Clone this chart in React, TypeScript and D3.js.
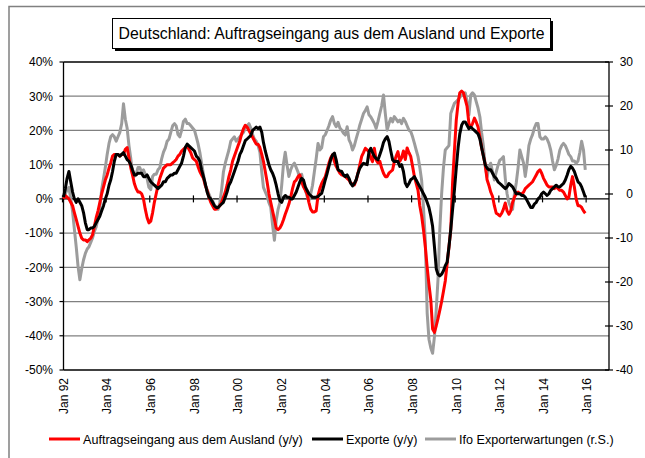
import React, { useEffect, useRef } from 'react';
import * as d3 from 'd3';

// monthly values, Jan 1992 - Dec 2015
const startMonth = new Date(1992, 0, 1);

// Auftragseingang aus dem Ausland (y/y, %)
const auftrag: number[] = [
  0, 1, 0.5, 0, -1, -2, -4, -6, -8, -10, -11.5, -12, // 1992
  -12, -12.5, -12, -11.5, -10.5, -8, -5.5, -3.5, -1, 1.5, 3.5, 5.5, // 1993
  7, 9, 10.5, 12.5, 13, 13, 13, 12.5, 13, 13, 14.5, 15, // 1994
  12, 9, 7, 4.5, 3, 2, 2, 1.5, 0, -3, -5.5, -7, // 1995
  -6.5, -4, -1, 1.5, 4, 6, 7.5, 9, 9.5, 10, 10, 10, // 1996
  10.5, 11, 11.5, 12.5, 13, 14, 14.5, 15, 15.5, 14.5, 13.5, 12, // 1997
  11.5, 11, 9.5, 8, 7, 6, 4, 2.5, 0.5, -1, -2, -3, // 1998
  -3, -2.5, -2, -1, 0.5, 2, 4, 6.5, 8.5, 11, 12.5, 14, // 1999
  15.5, 17, 19, 20.5, 21.5, 21, 20, 19, 18, 17, 16, 16, // 2000
  15, 13, 11, 8, 5, 1.5, -1, -3.5, -6, -8.5, -9, -8.5, // 2001
  -7.5, -6, -4.5, -3, -1.5, 0.5, 3, 5, 5.5, 6.5, 7, 5, // 2002
  3.5, 2.5, 1.5, -1, -3, -3.8, -3.8, -3.5, 1, 3, 4.5, 5.5, // 2003
  6.5, 8.5, 10.4, 12, 12.9, 10.9, 9.5, 8.5, 7.5, 7, 6.8, 6.5, // 2004
  6, 5.5, 4.6, 4.3, 4.1, 5.5, 7.5, 10, 12.4, 13.5, 14.8, 14.3, // 2005
  13.8, 12, 10.9, 14.8, 11.4, 10.5, 11, 9, 7.5, 6.5, 6.5, 7.5, // 2006
  8, 8.5, 10.9, 12.5, 13.8, 11, 12, 14, 11.5, 14.9, 13.5, 12.4, // 2007
  9.5, 6.5, 4.5, 2.5, -2, -5, -9, -14, -20, -25, -29.5, -38, // 2008
  -39, -37, -35, -32.5, -30, -27, -24, -19, -14, -9, 5, 14, // 2009
  23, 28, 31, 31.5, 31, 29, 27, 22, 21, 22, 23.6, 22.5, // 2010
  21, 18, 15, 12.5, 10, 5.6, 4, 2, 0.7, -2, -4.2, -4.5, // 2011
  -5, -4.2, -3, -1.2, -3.5, -4.5, -3.5, -1, 0.5, 1.5, 2, 1.5, // 2012
  1.5, 2, 3, 3.5, 4, 4.5, 5, 6, 7, 8, 8.5, 7.5, // 2013
  6, 5, 4, 3.5, 3.5, 3.5, 3, 3.5, 3, 2.5, 2.5, 2, // 2014
  1, 0, 0.5, 4, 6.5, 3.5, 0, -2, -2, -2.5, -3.5, -4.2 // 2015
];

// Exporte (y/y, %)
const exporte: number[] = [
  0.5, 3, 6, 8, 5, 2, 0, -1, 0, -1, -2, -4, // 1992
  -7, -9, -9, -8.5, -8.5, -8, -7, -6, -5, -3.5, -2, 0, // 1993
  1.5, 4, 5.5, 8, 11, 13, 13, 12.5, 13, 13.5, 12.5, 11.5, // 1994
  11, 10, 8.5, 7, 7, 7.5, 7.5, 7.5, 6.5, 6.5, 7, 6, // 1995
  5, 4.5, 4, 3.5, 3, 3.5, 4, 5, 5, 6, 6.5, 7, // 1996
  7, 7.5, 7.5, 8.5, 9.5, 10.5, 12.5, 15, 16, 15.5, 15, 14.5, // 1997
  14, 12.5, 12, 11, 8.5, 6.5, 4.5, 2, 0.5, 0, -1, -2, // 1998
  -2.5, -2.5, -2, -1.5, -1, 0.5, 2, 4, 5, 6.5, 8, 9.5, // 1999
  11, 13, 14, 15.5, 17, 17.5, 18, 18.5, 20, 20.5, 21, 20.5, // 2000
  21, 19.5, 16.5, 14, 12, 10, 8.5, 7.5, 6, 4, 1.5, -0.5, // 2001
  -1, 0.5, 1, 0.5, 0.5, 0, 0, 1, 2, 3.5, 5, 6, // 2002
  5.5, 3.5, 2.5, 1.5, 1, 0.5, 0.5, 0.5, 0.7, 1.2, 1.6, 3.5, // 2003
  5.6, 7.5, 9.5, 11.5, 12.9, 13.4, 11.4, 8.5, 8.2, 8, 7, 6.5, // 2004
  7, 6, 4.6, 3.8, 4.5, 5.6, 7.5, 9, 9.8, 10.4, 10.2, 10, // 2005
  13.8, 14.8, 13.5, 12.4, 11.8, 11.4, 12.9, 14.5, 16.5, 17.5, 18.2, 16.8, // 2006
  14, 11.4, 10.9, 11, 10.9, 9.5, 10, 8, 4.6, 3.6, 4.5, 5.6, // 2007
  6, 6.5, 5.5, 4.5, 3.5, 2.5, 1.5, 0.5, -1, -2.5, -5, -8, // 2008
  -14, -20.5, -22, -22.5, -22, -21, -19.5, -18.5, -14, -9, -3, 2.5, // 2009
  9, 15, 19, 21.5, 22.5, 22.5, 21.5, 20.5, 21, 20.5, 20, 19.5, // 2010
  19, 17.5, 15, 12.5, 10, 9, 8.5, 8.5, 7.5, 6.5, 6, 5, // 2011
  4.5, 4, 3.5, 3, 3.5, 4.5, 4, 3.5, 2.5, 1.5, 1.5, 1.5, // 2012
  1, 1, 0.5, -0.5, -1.5, -2.5, -2.5, -1.5, -1, 0, 0.5, 1.5, // 2013
  2, 1.5, 1, 1.5, 2.5, 3, 3.5, 4, 3.5, 3.5, 4, 4.5, // 2014
  5.5, 7, 8.5, 9.5, 9, 8, 6.5, 5, 4.5, 3.5, 2, 0.5 // 2015
];

// Ifo Exporterwartungen (Saldo, rechte Skala)
const ifo: number[] = [
  -1, 0, 1, 1.5, -1, -4, -8, -12, -16.5, -19.5, -17, -15, // 1992
  -13.5, -12.5, -12, -11, -10, -8.5, -7.5, -5.5, -3, 1, 3.5, 6, // 1993
  9, 11.5, 13, 13.5, 13, 12, 13, 14, 16, 20.5, 17, 15, // 1994
  11, 8, 4.5, 4, 4.5, 6, 6, 5, 5.5, 4.5, 3.5, 1.5, // 1995
  1, 4, 4.5, 4.5, 5.5, 6, 8, 9.5, 10.5, 12, 12.5, 14, // 1996
  15.5, 16, 15.5, 13.5, 13, 14.5, 16.5, 17, 16, 16, 15.5, 15, // 1997
  14.5, 13, 11.5, 9.5, 7, 4.5, 2, 1, 0, -1, -1.5, -2.5, // 1998
  -3, -3.5, -2, 1, 5, 7, 8.5, 10, 12, 12.5, 13, 12, // 1999
  12.5, 13, 13.5, 14, 15, 15.5, 16, 15, 13.5, 12.5, 12, 11, // 2000
  9.5, 5, 1.5, 0.5, -0.5, -2, -3, -7, -10.5, -6, -3.5, -2, // 2001
  2, 7, 9.5, 6.5, 4, 5.5, 6.5, 7, 6, 5, 3.5, 4.5, // 2002
  2.5, 1, -0.5, -1.5, 0, 2, 5, 8, 11.5, 10, 10.5, 13, // 2003
  13.5, 14.5, 15.5, 16.8, 17.6, 16, 15.3, 16.3, 15, 14.5, 13.8, 13.4, // 2004
  15.3, 12.3, 11.5, 10, 11, 12.6, 14, 15.7, 17, 18.3, 19, 19.8, // 2005
  18, 17.5, 16.8, 16, 14.9, 16.5, 18.3, 20, 22.5, 18.3, 14.5, 16, // 2006
  17.2, 16.4, 17.6, 17, 16.4, 16.8, 16, 17.2, 16.5, 15.5, 14.5, 14.2, // 2007
  13, 11.5, 10, 8.5, 6, 3, -3, -10.5, -27, -33, -35, -36.2, // 2008
  -32.4, -26, -19.5, -8, 0, 6, 10, 10.5, 11, 18.3, 19.5, 20.6, // 2009
  21, 21.5, 22, 22.5, 22.5, 23, 21, 18, 22.5, 23, 22.5, 21, // 2010
  19.5, 17.5, 14, 10.8, 6.2, 3.9, 6, 7, 5, 3.2, 5, 6.5, // 2011
  7.7, 8, 8.5, 3.5, 0, -2, -3, -3.5, 0, 2.5, 6, 10, // 2012
  8.5, 7, 4, 7, 11, 12.5, 13.5, 15, 16, 16, 13, 12.5, // 2013
  12.5, 13, 12.5, 11.5, 10, 7.5, 5.5, 6.5, 8, 10, 11, 11.5, // 2014
  11, 10, 9, 8.5, 7.5, 7.5, 7, 7.5, 9.5, 12, 10, 5.5 // 2015
];

const leftTicks = [40, 30, 20, 10, 0, -10, -20, -30, -40, -50];
const rightTicks = [30, 20, 10, 0, -10, -20, -30, -40];
const yearLabels = [1992, 1994, 1996, 1998, 2000, 2002, 2004, 2006, 2008, 2010, 2012, 2014, 2016];

const seriesInfo = [
  { key: 'auftrag', label: 'Auftragseingang aus dem Ausland (y/y)', color: '#ff0000' },
  { key: 'exporte', label: 'Exporte (y/y)', color: '#000000' },
  { key: 'ifo', label: 'Ifo Exporterwartungen (r.S.)', color: '#9c9c9c' }
];

const FONT = '"Liberation Sans", Arial, sans-serif';

const App: React.FC = () => {
  const svgRef = useRef<SVGSVGElement>(null);

  useEffect(() => {
    if (!svgRef.current) return;
    const svg = d3.select(svgRef.current);
    svg.selectAll('*').remove();

    const left = 63.5, right = 609, top = 62, bottom = 370;

    const x = d3.scaleTime()
      .domain([new Date(1992, 0, 1), new Date(2017, 0, 1)])
      .range([left, right]);
    const yL = d3.scaleLinear().domain([-50, 40]).range([bottom, top]);
    const yR = d3.scaleLinear().domain([-40, 30]).range([bottom, top]);

    const dates = auftrag.map((_, i) => d3.timeMonth.offset(startMonth, i));

    // outer frame
    svg.append('path')
      .attr('d', `M9,460 L9,6.5 L650,6.5`)
      .attr('fill', 'none')
      .attr('stroke', '#808080')
      .attr('stroke-width', 1.5);

    // title box with shadow
    svg.append('rect')
      .attr('x', 115).attr('y', 21).attr('width', 438).attr('height', 30)
      .attr('fill', '#000');
    svg.append('rect')
      .attr('x', 112.5).attr('y', 18.5).attr('width', 438).attr('height', 30)
      .attr('fill', '#fff').attr('stroke', '#000').attr('stroke-width', 1);
    svg.append('text')
      .attr('x', 331.5).attr('y', 39)
      .attr('text-anchor', 'middle')
      .attr('font-family', FONT)
      .attr('font-size', '15.8px')
      .attr('fill', '#000')
      .text('Deutschland: Auftragseingang aus dem Ausland und Exporte');

    // gridlines
    const g = svg.append('g');
    leftTicks.forEach(t => {
      const isEdge = t === 40 || t === -50 || t === 0;
      g.append('line')
        .attr('x1', left).attr('x2', right)
        .attr('y1', yL(t)).attr('y2', yL(t))
        .attr('stroke', isEdge ? '#000' : '#808080')
        .attr('stroke-width', isEdge ? 1.3 : 1.2);
    });

    // left axis
    g.append('line')
      .attr('x1', left).attr('x2', left).attr('y1', top).attr('y2', bottom)
      .attr('stroke', '#000').attr('stroke-width', 1.3);
    leftTicks.forEach(t => {
      g.append('line')
        .attr('x1', left - 4).attr('x2', left)
        .attr('y1', yL(t)).attr('y2', yL(t))
        .attr('stroke', '#000').attr('stroke-width', 1.2);
      g.append('text')
        .attr('x', 53).attr('y', yL(t) + 4.3)
        .attr('text-anchor', 'end')
        .attr('font-family', FONT).attr('font-size', '12px')
        .attr('fill', '#000')
        .text(`${t}%`);
    });

    // right axis
    g.append('line')
      .attr('x1', right).attr('x2', right).attr('y1', top).attr('y2', bottom)
      .attr('stroke', '#000').attr('stroke-width', 1.3);
    rightTicks.forEach(t => {
      g.append('line')
        .attr('x1', right - 4).attr('x2', right + 4)
        .attr('y1', yR(t)).attr('y2', yR(t))
        .attr('stroke', '#000').attr('stroke-width', 1.2);
      g.append('text')
        .attr('x', 633).attr('y', yR(t) + 4.3)
        .attr('text-anchor', 'end')
        .attr('font-family', FONT).attr('font-size', '12px')
        .attr('fill', '#000')
        .text(`${t}`);
    });

    // x ticks on zero line + rotated labels
    yearLabels.forEach(yr => {
      const xp = x(new Date(yr, 0, 1));
      g.append('line')
        .attr('x1', xp - 1).attr('x2', xp - 1)
        .attr('y1', yL(0) - 3.5).attr('y2', yL(0) + 3.5)
        .attr('stroke', '#000').attr('stroke-width', 1.2);
      g.append('text')
        .attr('transform', `translate(${xp + 4.3},378) rotate(-90)`)
        .attr('text-anchor', 'end')
        .attr('font-family', FONT).attr('font-size', '12px')
        .attr('fill', '#000')
        .text(`Jan ${String(yr).slice(2)}`);
    });

    // series lines
    const lineL = d3.line<number>()
      .x((_, i) => x(dates[i]))
      .y(d => yL(d));
    const lineR = d3.line<number>()
      .x((_, i) => x(dates[i]))
      .y(d => yR(d));

    g.append('path').datum(ifo)
      .attr('d', lineR)
      .attr('fill', 'none').attr('stroke', seriesInfo[2].color)
      .attr('stroke-width', 3).attr('stroke-linejoin', 'round');
    g.append('path').datum(auftrag)
      .attr('d', lineL)
      .attr('fill', 'none').attr('stroke', seriesInfo[0].color)
      .attr('stroke-width', 3).attr('stroke-linejoin', 'round');
    g.append('path').datum(exporte)
      .attr('d', lineL)
      .attr('fill', 'none').attr('stroke', seriesInfo[1].color)
      .attr('stroke-width', 3).attr('stroke-linejoin', 'round');

    // legend
    const legendX = [49, 312, 425];
    const legend = svg.append('g');
    seriesInfo.forEach((s, i) => {
      legend.append('line')
        .attr('x1', legendX[i]).attr('x2', legendX[i] + 31)
        .attr('y1', 439).attr('y2', 439)
        .attr('stroke', s.color).attr('stroke-width', 3);
      legend.append('text')
        .attr('x', legendX[i] + 34).attr('y', 443.5)
        .attr('font-family', FONT).attr('font-size', '12.6px')
        .attr('fill', '#000')
        .text(s.label);
    });
  }, []);

  return (
    <svg
      ref={svgRef}
      width={645}
      height={458}
      style={{ position: 'absolute', left: 0, top: 0, background: '#fff', display: 'block' }}
    />
  );
};

export default App;
